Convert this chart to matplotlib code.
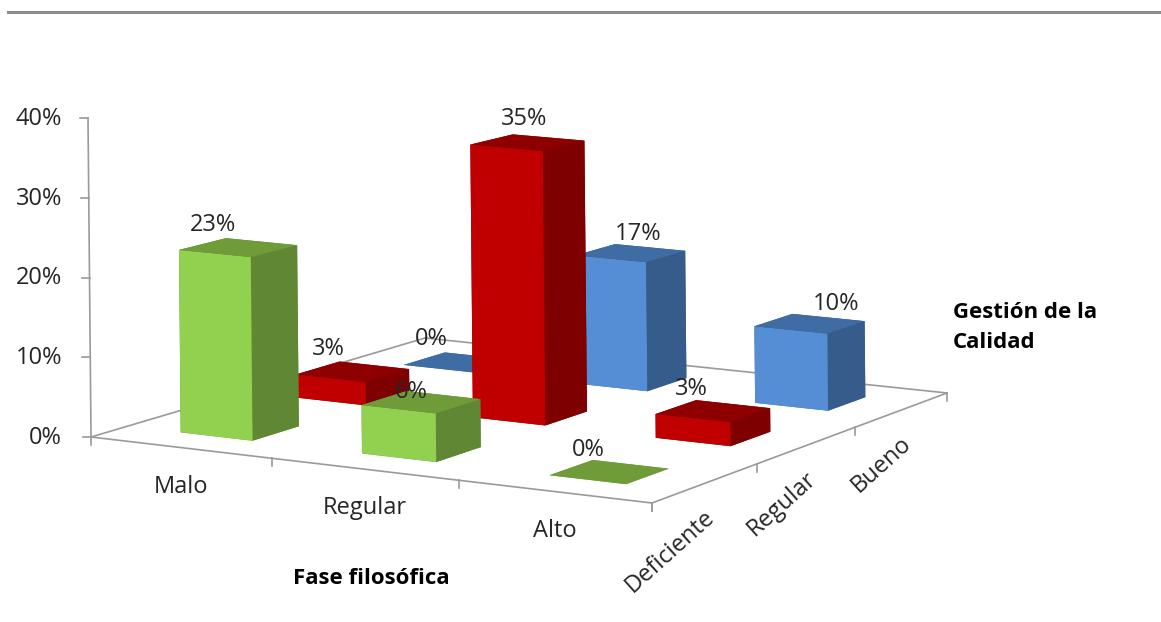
"""3D clustered columns: Gestión de la Calidad by Fase filosófica."""
import matplotlib
matplotlib.use('Agg')
import matplotlib.pyplot as plt
import numpy as np
from matplotlib.lines import Line2D
from mpl_toolkits.mplot3d import proj3d

plt.rcParams['font.family'] = ['Open Sans', 'DejaVu Sans']

# Data
fases = ['Malo', 'Regular', 'Alto']
gestion = ['Deficiente', 'Regular', 'Bueno']
deficiente = [23, 6, 0]
regular = [3, 35, 3]
bueno = [0, 17, 10]
pct_ticks = [0, 10, 20, 30, 40]

W, H = 1161, 622
BAR = 0.40
AXIS_COLOR = '#9a9a9a'
TEXT_COLOR = '#262626'
LABEL_SIZE = 17
TITLE_SIZE = 16

# front, side and top shades for each series
GREEN = ('#92D050', '#608733', '#6F9C39')
RED = ('#C00000', '#7F0000', '#8E0000')
BLUE = ('#558ED5', '#355C8A', '#3F6CA3')

# pixel nudges of the value labels from the centre of each bar top
LABEL_NUDGE = {
    (0, 0): (-25, -23), (1, 0): (-10, -10), (2, 0): (-21, -22),
    (0, 1): (-24, -23), (1, 1): (-3, -24), (2, 1): (-22, -22),
    (0, 2): (-27, -23), (1, 2): (8, -19), (2, 2): (26, -20),
}


def floor_camera():
    """Camera matrix sending (fase, gestion, percent) to image pixels."""
    floor = [(0, 0), (3, 0), (3, 3), (0, 3)]
    corners = [(91, 437), (652, 503), (947, 393), (425, 338)]
    a, b = [], []
    for (u, v), (sx, sy) in zip(floor, corners):
        a.append([u, v, 1, 0, 0, 0, -u * sx, -v * sx])
        a.append([0, 0, 0, u, v, 1, -u * sy, -v * sy])
        b += [sx, sy]
    h = np.linalg.solve(np.array(a, float), np.array(b, float))
    return np.array([
        [h[0], h[1], -0.075, h[2]],
        [h[3], h[4], -7.975, h[5]],
        [-0.01, 0.01, -0.001, 0.0],
        [h[6], h[7], 0.0, 1.0],
    ])


fig = plt.figure(figsize=(W / 100, H / 100), dpi=100, facecolor='white')
# mplot3d keeps its axes square, so let the square overflow the figure
pad = (W - H) / 2
ax = fig.add_axes([0, -pad / H, 1, W / H], projection='3d', computed_zorder=False)
ax.set_axis_off()
camera = floor_camera()
ax.get_proj = lambda: camera


def project(u, v, z):
    sx, sy, _ = proj3d.proj_transform(u, v, z, camera)
    return float(sx), float(sy)


def put_text(x, y, s, **kwargs):
    kwargs.setdefault('color', TEXT_COLOR)
    ax.text2D(x, y, s, transform=ax.transData, **kwargs)


def axis_line(p, q):
    ax.add_line(Line2D([p[0], q[0]], [p[1], q[1]], color=AXIS_COLOR, lw=1.2, zorder=1))


# floor outline and value axis
axis_line(project(0, 0, 0), project(3, 0, 0))
axis_line(project(3, 0, 0), project(3, 3, 0))
axis_line(project(0, 0, 0), project(0, 3, 0))
axis_line(project(0, 3, 0), project(3, 3, 0))
axis_line(project(0, 0, 0), project(0, 0, pct_ticks[-1]))

for p in pct_ticks:
    sx, sy = project(0, 0, p)
    axis_line((sx - 8, sy), (sx, sy))
    put_text(62, sy + 1, f'{p}%', ha='right', va='center', fontsize=LABEL_SIZE)

for i in range(len(fases) + 1):
    sx, sy = project(i, 0, 0)
    axis_line((sx, sy), (sx, sy + 8))
for j in range(len(gestion) + 1):
    sx, sy = project(3, j, 0)
    axis_line((sx, sy), (sx, sy + 8))

for i, name in enumerate(fases):
    sx, sy = project(i + 0.5, 0, 0)
    put_text(sx, sy + 39, name, ha='center', va='center', fontsize=LABEL_SIZE)
for j, name in enumerate(gestion):
    sx, sy = project(3, j + 0.5, 0)
    put_text(sx - 2, sy + 22, name, ha='right', va='top', rotation=42,
             rotation_mode='anchor', fontsize=LABEL_SIZE)

# columns, back row first so nearer ones cover them
rows = [(2, bueno, BLUE), (1, regular, RED), (0, deficiente, GREEN)]
order = 2
for j, values, (front, side, top) in rows:
    for i, value in enumerate(values):
        colors = [top, top, front, side, side, side]
        ax.bar3d(i + 0.5 - BAR / 2, j + 0.5 - BAR / 2, 0, BAR, BAR, value,
                 color=colors, shade=False, zorder=order, edgecolor='none')
        order += 1

for j, values, _ in rows:
    for i, value in enumerate(values):
        sx, sy = project(i + 0.5, j + 0.5, value)
        dx, dy = LABEL_NUDGE[(i, j)]
        put_text(sx + dx, sy + dy, f'{value}%', ha='center', va='center',
                 fontsize=LABEL_SIZE, zorder=50)

put_text(371, 578, 'Fase filosófica', ha='center', va='center', fontsize=TITLE_SIZE,
         fontweight='bold', color='black')
put_text(953, 312, 'Gestión de la', ha='left', va='center', fontsize=TITLE_SIZE,
         fontweight='bold', color='black')
put_text(953, 343, 'Calidad', ha='left', va='center', fontsize=TITLE_SIZE,
         fontweight='bold', color='black')

ax.viewLim.intervalx = (0, W)
ax.viewLim.intervaly = (H + pad, -pad)

fig.add_artist(Line2D([8 / W, 1], [1 - 12 / H, 1 - 12 / H], color='#8c8c8c', lw=2.2))

fig.savefig('out.png', dpi=100, facecolor='white')
